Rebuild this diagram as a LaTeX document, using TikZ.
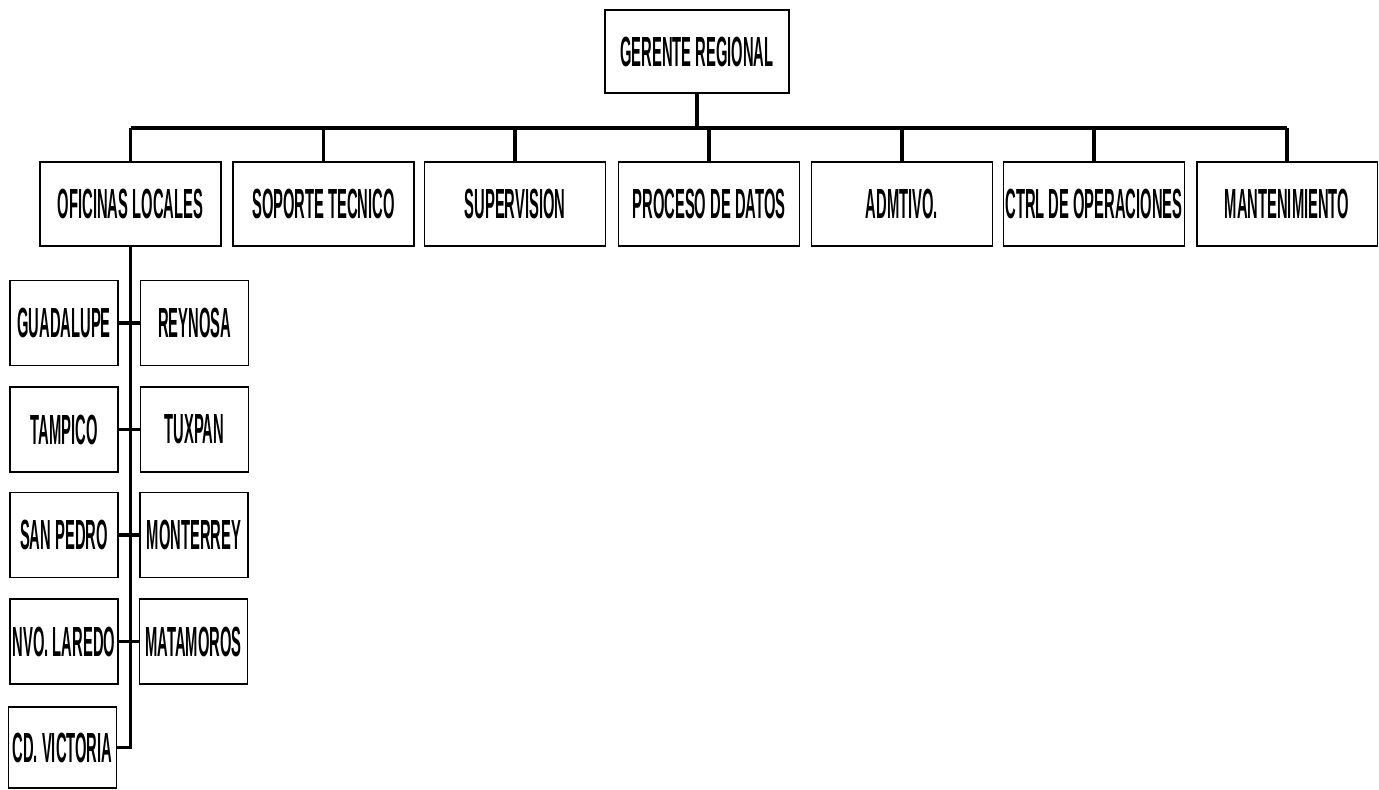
\documentclass[tikz,border=0pt]{standalone}
\usepackage{fontspec}
\setmainfont[FakeStretch=0.35]{Liberation Sans}
\begin{document}
\begin{tikzpicture}[x=0.02cm,y=-0.02cm,
  box/.style={draw,line width=1.1pt,inner sep=1pt,minimum height=1.68cm,font=\fontsize{24}{26}\selectfont\bfseries},
  dept/.style={box,minimum width=3.62cm},
  city/.style={box,minimum width=2.16cm,minimum height=1.7cm},
  link/.style={line width=2pt}]
\useasboundingbox (0,0) rectangle (1379,789);
\node[box,minimum width=3.68cm,minimum height=1.66cm] (ger) at (697,51.5) {GERENTE REGIONAL};
% departamentos
\node[dept] (ofi) at (130.5,204) {OFICINAS LOCALES};
\node[dept] (sop) at (323.5,204) {SOPORTE TECNICO};
\node[dept] (sup) at (515,204) {SUPERVISION};
\node[dept] (proc) at (709,204) {PROCESO DE DATOS};
\node[dept] (adm) at (902,204) {ADMTIVO.};
\node[dept] (ctrl) at (1094,204) {CTRL DE OPERACIONES};
\node[dept] (mant) at (1287,204) {MANTENIMIENTO};
% oficinas locales
\node[city] (gua) at (64,323) {GUADALUPE};
\node[city] (rey) at (194.5,323) {REYNOSA};
\node[city] (tam) at (64,429.5) {TAMPICO};
\node[city] (tux) at (194.5,429.5) {TUXPAN};
\node[city] (spe) at (64,535) {SAN PEDRO};
\node[city] (mon) at (194,535) {MONTERREY};
\node[city] (nvo) at (64,641.5) {NVO. LAREDO};
\node[city] (mat) at (193.5,641.5) {MATAMOROS};
\node[city,minimum height=1.62cm] (vic) at (62.5,747.5) {CD. VICTORIA};
% lineas
\coordinate (bus) at (697,128);
\draw[link] (ger) -- (bus);
\draw[link] (ofi.north |- bus) -- (mant.north |- bus);
\foreach \n in {ofi,sop,sup,proc,adm,ctrl,mant}
  \draw[link] (\n.north) -- (\n.north |- bus);
\draw[link] (ofi) -- (ofi.south |- vic) -- (vic);
\foreach \a/\b in {gua/rey,tam/tux,spe/mon,nvo/mat}
  \draw[link] (\a) -- (\b);
\end{tikzpicture}
\end{document}
